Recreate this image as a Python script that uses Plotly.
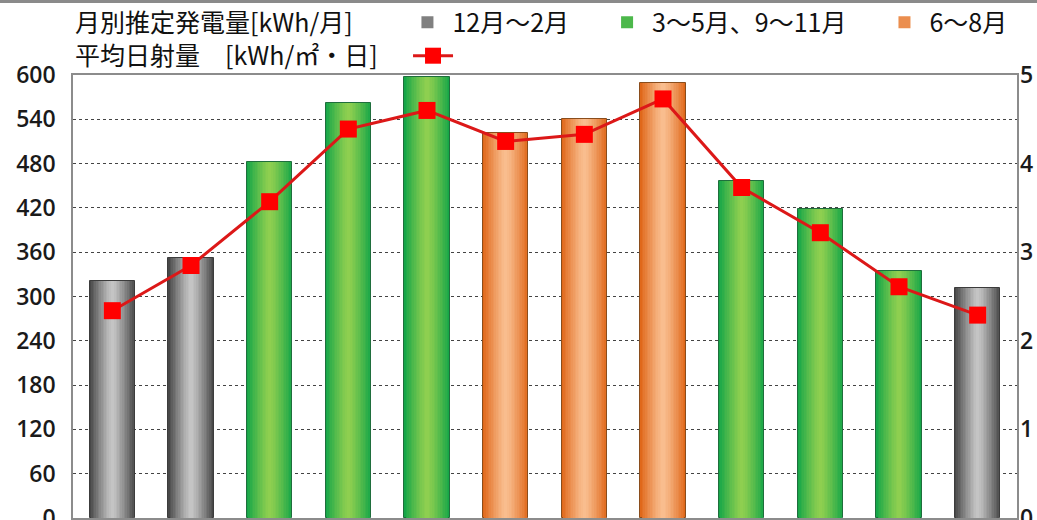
import plotly.graph_objects as go

months = ["1月", "2月", "3月", "4月", "5月", "6月", "7月", "8月", "9月", "10月", "11月", "12月"]
generation = [321, 352, 482, 562, 597, 522, 541, 589, 456, 419, 335, 311]
irradiance = [2.34, 2.85, 3.57, 4.39, 4.60, 4.25, 4.33, 4.73, 3.73, 3.22, 2.61, 2.29]
season = ["winter", "winter", "mid", "mid", "mid", "summer", "summer", "summer", "mid", "mid", "mid", "winter"]

group_names = {"winter": "12月～2月", "mid": "3～5月、9～11月", "summer": "6～8月"}
group_edge = {"winter": (72, 72, 72), "mid": (22, 166, 72), "summer": (224, 104, 26)}
group_center = {"winter": (200, 200, 200), "mid": (146, 208, 80), "summer": (250, 192, 146)}
group_outline = {"winter": "#3c3c3c", "mid": "#1f6e3c", "summer": "#8a4d1c"}
legend_pad = {"winter": "\u00a0" * 5, "mid": "\u00a0" * 5, "summer": ""}

bar_width = 0.58
layers = 14

fig = go.Figure()

for g in ["winter", "mid", "summer"]:
    xs = [m for m, s in zip(months, season) if s == g]
    ys = [v for v, s in zip(generation, season) if s == g]
    e, c = group_edge[g], group_center[g]
    for k in range(layers):
        t = 1 - k / layers
        f = t ** 1.3
        col = tuple(int(round(c[i] + (e[i] - c[i]) * f)) for i in range(3))
        fig.add_trace(go.Bar(
            x=xs, y=ys, width=bar_width * t,
            marker=dict(color="rgb(%d,%d,%d)" % col,
                        line=dict(color=group_outline[g] if k == 0 else "rgba(0,0,0,0)", width=1 if k == 0 else 0)),
            name=group_names[g] + legend_pad[g],
            showlegend=(k == 5),
            legend="legend",
            hoverinfo="skip" if k else "x+y",
        ))

fig.add_trace(go.Scatter(
    x=months, y=irradiance, yaxis="y2", mode="lines+markers",
    line=dict(color="#dc1818", width=3),
    marker=dict(symbol="square", size=17, color="#ff0000", line=dict(width=0)),
    name=" ", legend="legend2",
))

font_jp = "Noto Sans CJK JP"
tick_font = dict(family="Open Sans", size=23, color="#1a1a1a", weight=600)
fig.update_layout(
    width=1037, height=520,
    margin=dict(l=73, r=20, t=75, b=2, autoexpand=False),
    paper_bgcolor="white", plot_bgcolor="white",
    barmode="overlay",
    bargap=0,
    xaxis=dict(type="category", categoryorder="array", categoryarray=months,
               range=[-0.5, len(months) - 0.5],
               showticklabels=False, ticks="", showgrid=False, showline=True,
               linecolor="#8c8c8c", linewidth=1.5, mirror=True, zeroline=False),
    yaxis=dict(range=[0, 600], dtick=60, tick0=0, showgrid=True, griddash="dot",
               gridcolor="#444444", gridwidth=1, showline=True, linecolor="#8c8c8c",
               linewidth=1.5, mirror=True, zeroline=False, ticks="",
               ticklabelstandoff=11, ticklabeloverflow="allow",
               tickfont=tick_font),
    yaxis2=dict(range=[0, 5], dtick=1, tick0=0, overlaying="y", side="right",
                showgrid=False, zeroline=False, showline=False, ticks="",
                ticklabelstandoff=2, ticklabeloverflow="allow",
                tickfont=tick_font),
    legend=dict(orientation="h", x=0.0, xanchor="left", y=1.1185, yanchor="middle",
                font=dict(family=font_jp, size=25, color="#111111"),
                title=dict(text="月別推定発電量[kWh/月]\u3000\u00a0\u00a0\u00a0", side="left",
                           font=dict(family=font_jp, size=25, color="#111111")),
                bgcolor="rgba(0,0,0,0)", itemwidth=40, traceorder="normal"),
    legend2=dict(orientation="h", x=0.0, xanchor="left", y=1.043, yanchor="middle",
                 font=dict(family=font_jp, size=25, color="#111111"),
                 title=dict(text="平均日射量\u3000[kWh/㎡・日]\u00a0\u00a0\u00a0\u00a0", side="left",
                            font=dict(family=font_jp, size=25, color="#111111")),
                 bgcolor="rgba(0,0,0,0)", itemwidth=40),
    shapes=[dict(type="line", xref="paper", yref="paper", x0=-0.1, x1=1.1,
                 y0=1.166, y1=1.166, line=dict(color="#8a8a8a", width=3))],
)

fig.write_html("out.html", post_script="document.body.style.margin='0';",
               config={"displayModeBar": False})
